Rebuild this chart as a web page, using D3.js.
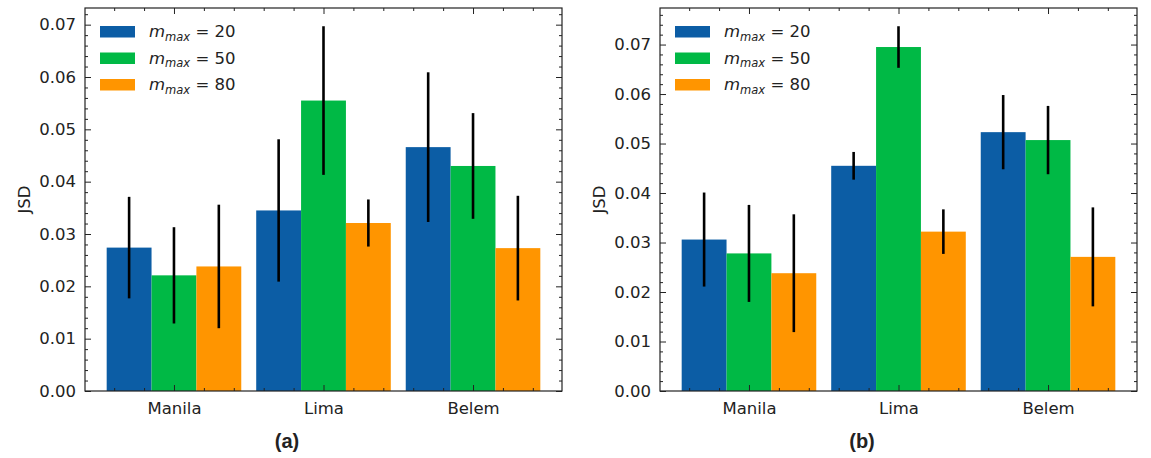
<!DOCTYPE html>
<html>
<head>
<meta charset="utf-8">
<script src="https://cdn.jsdelivr.net/npm/d3@7"></script>
<style>
body { margin: 0; background: #fff; }
svg text { font-family: "DejaVu Sans", sans-serif; fill: #222; }
</style>
</head>
<body>
<div id="chart"></div>
<script>
// data
var cities = ["Manila", "Lima", "Belem"];
var mmax = ["20", "50", "80"];
var colors = ["#0C5DA5", "#00B945", "#FF9500"];
// rows = city, columns = m_max series
var jsdA = [[0.0274, 0.0221, 0.0238], [0.0345, 0.0555, 0.0321], [0.0466, 0.0430, 0.0273]];
var errA = [[0.0097, 0.0092, 0.0118], [0.0136, 0.0142, 0.0045], [0.0143, 0.0101, 0.0100]];
var jsdB = [[0.0306, 0.0278, 0.0238], [0.0455, 0.0695, 0.0322], [0.0523, 0.0507, 0.0271]];
var errB = [[0.0095, 0.0098, 0.0119], [0.0028, 0.0042, 0.0045], [0.0075, 0.0069, 0.0100]];
var yTicks = [0, 0.01, 0.02, 0.03, 0.04, 0.05, 0.06, 0.07];
var panelNames = ["(a)", "(b)"];

var W = 1151, H = 458;
var svg = d3.select("#chart").append("svg")
	.attr("width", W)
	.attr("height", H);

var barW = 0.3;

function drawPanel(left, right, vals, errs, name, nameX) {
	var top = 8, bottom = 391;

	var ymax = d3.max(vals, function(row, i) {
		return d3.max(row, function(v, j) { return v + errs[i][j]; });
	}) * 1.05;

	var x = d3.scaleLinear().domain([-0.595, 2.595]).range([left, right]);
	var y = d3.scaleLinear().domain([0, ymax]).range([bottom, top]);

	var g = svg.append("g");

	// flatten into bar records
	var bars = [];
	vals.forEach(function(row, i) {
		row.forEach(function(v, j) {
			bars.push({city: i, s: j, v: v, e: errs[i][j]});
		});
	});

	g.selectAll("rect.bar")
		.data(bars)
		.enter().append("rect")
		.attr("class", "bar")
		.attr("x", function(d) { return x(d.city + (d.s - 1) * barW - barW / 2); })
		.attr("width", function(d) { return x(barW) - x(0); })
		.attr("y", function(d) { return y(d.v); })
		.attr("height", function(d) { return bottom - y(d.v); })
		.attr("fill", function(d) { return colors[d.s]; });

	g.selectAll("line.err")
		.data(bars)
		.enter().append("line")
		.attr("class", "err")
		.attr("x1", function(d) { return x(d.city + (d.s - 1) * barW); })
		.attr("x2", function(d) { return x(d.city + (d.s - 1) * barW); })
		.attr("y1", function(d) { return y(d.v - d.e); })
		.attr("y2", function(d) { return y(d.v + d.e); })
		.attr("stroke", "#000")
		.attr("stroke-width", 2.6);

	// ticks
	var xMinor = d3.range(-2, 13).map(function(i) { return i * 0.2; })
		.filter(function(v) { return Math.abs(v - Math.round(v)) > 1e-6; });
	var yMinor = d3.range(0, Math.round(ymax / 0.002) + 1).map(function(i) { return i * 0.002; })
		.filter(function(v) { return v <= ymax && Math.abs(v * 100 - Math.round(v * 100)) > 1e-6; });
	var yMajor = yTicks.filter(function(v) { return v <= ymax; });

	function style(sel) {
		sel.select(".domain").remove();
		sel.selectAll("line").attr("stroke", "#222").attr("stroke-width", 1);
		sel.selectAll("text").style("font-size", "16.5px").attr("fill", "#222");
	}

	g.append("g").attr("transform", "translate(0," + bottom + ")")
		.call(d3.axisBottom(x).tickValues([0, 1, 2]).tickSize(-6).tickPadding(11)
			.tickFormat(function(i) { return cities[i]; }))
		.call(style);
	g.append("g").attr("transform", "translate(0," + bottom + ")")
		.call(d3.axisBottom(x).tickValues(xMinor).tickSize(-3).tickFormat(""))
		.call(style);
	g.append("g").attr("transform", "translate(0," + top + ")")
		.call(d3.axisTop(x).tickValues([0, 1, 2]).tickSize(-6).tickFormat(""))
		.call(style);
	g.append("g").attr("transform", "translate(0," + top + ")")
		.call(d3.axisTop(x).tickValues(xMinor).tickSize(-3).tickFormat(""))
		.call(style);

	g.append("g").attr("transform", "translate(" + left + ",0)")
		.call(d3.axisLeft(y).tickValues(yMajor).tickSize(-6).tickPadding(9)
			.tickFormat(d3.format(".2f")))
		.call(style);
	g.append("g").attr("transform", "translate(" + left + ",0)")
		.call(d3.axisLeft(y).tickValues(yMinor).tickSize(-3).tickFormat(""))
		.call(style);
	g.append("g").attr("transform", "translate(" + right + ",0)")
		.call(d3.axisRight(y).tickValues(yMajor).tickSize(-6).tickFormat(""))
		.call(style);
	g.append("g").attr("transform", "translate(" + right + ",0)")
		.call(d3.axisRight(y).tickValues(yMinor).tickSize(-3).tickFormat(""))
		.call(style);

	// frame
	g.append("rect")
		.attr("x", left).attr("y", top)
		.attr("width", right - left).attr("height", bottom - top)
		.attr("fill", "none")
		.attr("stroke", "#222")
		.attr("stroke-width", 1.2);

	// y label
	g.append("text")
		.attr("transform", "translate(" + (left - 61) + "," + ((top + bottom) / 2) + ") rotate(-90)")
		.attr("text-anchor", "middle")
		.attr("dominant-baseline", "central")
		.style("font-size", "16.5px")
		.text("JSD");

	// legend
	var leg = g.selectAll("g.leg")
		.data(mmax)
		.enter().append("g")
		.attr("class", "leg")
		.attr("transform", function(d, i) { return "translate(" + (left + 15) + "," + (26 + i * 26.5) + ")"; });
	leg.append("rect")
		.attr("width", 35).attr("height", 11.5)
		.attr("fill", function(d, i) { return colors[i]; });
	var lt = leg.append("text")
		.attr("x", 49).attr("y", 11)
		.style("font-size", "16.5px");
	lt.append("tspan").attr("font-style", "italic").text("m");
	lt.append("tspan").attr("font-style", "italic").attr("dy", 3.5).style("font-size", "11.5px").text("max");
	lt.append("tspan").attr("dy", -3.5).text(function(d) { return " = " + d; });

	// panel name
	svg.append("text")
		.attr("x", nameX).attr("y", 448)
		.attr("text-anchor", "middle")
		.style("font-family", "'Liberation Sans', Arial, sans-serif")
		.style("font-weight", "bold")
		.style("font-size", "20px")
		.text(name);
}

drawPanel(85, 562, jsdA, errA, panelNames[0], 287);
drawPanel(660, 1137, jsdB, errB, panelNames[1], 862);
</script>
</body>
</html>
